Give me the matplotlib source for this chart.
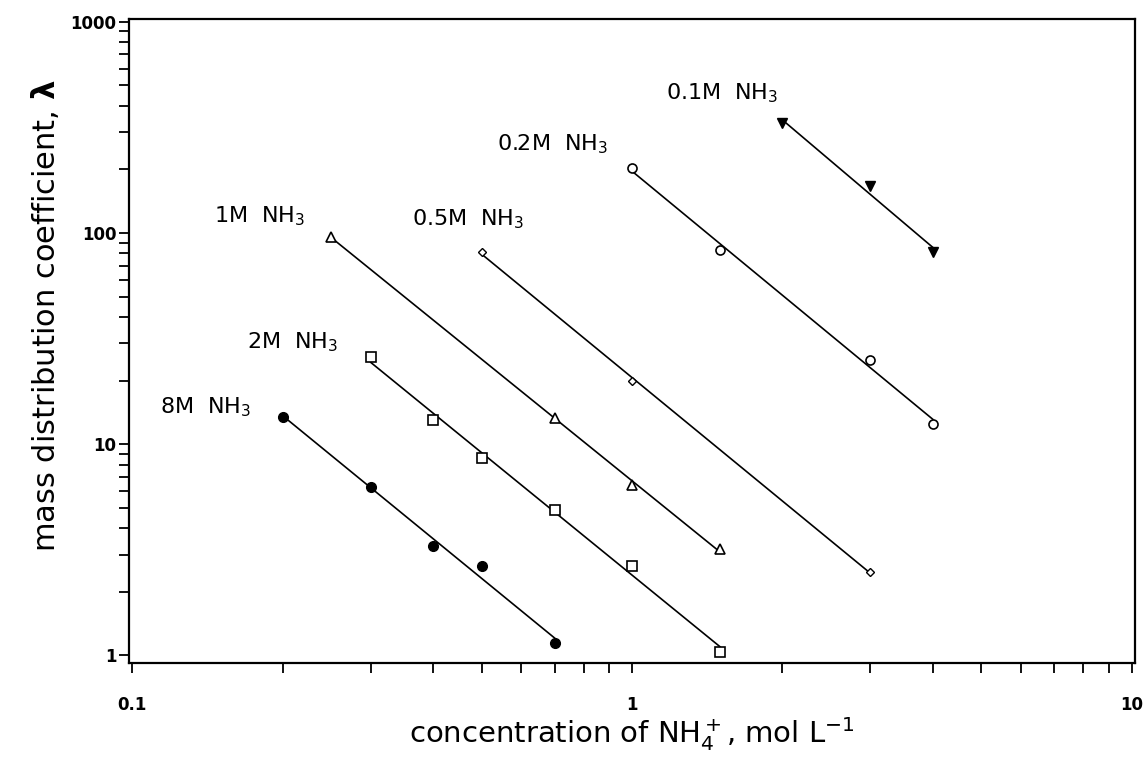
import numpy as np
import matplotlib
matplotlib.use("Agg")
import matplotlib.pyplot as plt

plt.rcParams['font.family'] = ['DejaVu Sans']
plt.rcParams['mathtext.fontset'] = 'dejavusans'

# NH4+ concentration (mol/L) and mass distribution coefficient for each NH3 level
conc_8M = [0.2, 0.3, 0.4, 0.5, 0.7]
lam_8M = [13.5, 6.3, 3.3, 2.65, 1.14]

conc_2M = [0.3, 0.4, 0.5, 0.7, 1.0, 1.5]
lam_2M = [26.0, 13.0, 8.6, 4.9, 2.65, 1.04]

conc_1M = [0.25, 0.7, 1.0, 1.5]
lam_1M = [96.0, 13.3, 6.4, 3.2]

conc_05M = [0.5, 1.0, 3.0]
lam_05M = [81.0, 20.0, 2.48]

conc_02M = [1.0, 1.5, 3.0, 4.0]
lam_02M = [202.0, 83.0, 25.0, 12.5]

conc_01M = [2.0, 3.0, 4.0]
lam_01M = [330.0, 166.0, 81.0]

series_labels = ["8M", "2M", "1M", "0.5M", "0.2M", "0.1M"]
label_pos = [(0.1135, 14.9), (0.170, 30.4), (0.146, 120.0), (0.362, 116.0), (0.536, 262.0), (1.17, 456.0)]

series = [
    (conc_8M, lam_8M, dict(marker='o', ms=7, mfc='black', mec='black')),
    (conc_2M, lam_2M, dict(marker='s', ms=6.5, mfc='white', mec='black', mew=1.2)),
    (conc_1M, lam_1M, dict(marker='^', ms=6.5, mfc='white', mec='black', mew=1.2)),
    (conc_05M, lam_05M, dict(marker='D', ms=4.5, mfc='white', mec='black', mew=1.0)),
    (conc_02M, lam_02M, dict(marker='o', ms=6.5, mfc='white', mec='black', mew=1.2)),
    (conc_01M, lam_01M, dict(marker='v', ms=7, mfc='black', mec='black')),
]

fig = plt.figure(figsize=(11.48, 7.57), dpi=100)
ax = fig.add_axes([0.1124, 0.124, 0.8763, 0.851])
ax.set_xscale('log')
ax.set_yscale('log')

for (x, y, mk), name, (tx, ty) in zip(series, series_labels, label_pos):
    x = np.asarray(x)
    y = np.asarray(y)
    # least-squares line in log-log space over the measured range
    k, b = np.polyfit(np.log10(x), np.log10(y), 1)
    xf = np.array([x.min(), x.max()])
    ax.plot(xf, 10 ** (k * np.log10(xf) + b), color='black', lw=1.2, zorder=2)
    ax.plot(x, y, ls='none', zorder=3, **mk)
    ax.text(tx, ty, name + r'  NH$_3$', fontsize=16, ha='left', va='center')

ax.set_xlim(0.0985, 10.15)
ax.set_ylim(0.92, 1030)

ax.set_xticks([0.1, 1, 10])
ax.set_xticklabels(['0.1', '1', '10'])
ax.set_yticks([1, 10, 100, 1000])
ax.set_yticklabels(['1', '10', '100', '1000'])

ax.tick_params(which='both', direction='out', width=1.3, length=7)
ax.tick_params(axis='x', which='major', pad=17, labelsize=12)
ax.tick_params(axis='y', which='major', pad=2, labelsize=12)
for lab in ax.get_xticklabels() + ax.get_yticklabels():
    lab.set_fontweight('bold')

for sp in ax.spines.values():
    sp.set_linewidth(1.6)

ax.set_xlabel(r'concentration of NH$_4^+$, mol L$^{-1}$', fontsize=21, va='center')
ax.xaxis.set_label_coords(0.5, -0.11)
ax.set_ylabel(r'mass distribution coefficient, $\mathbf{\lambda}$', fontsize=22, va='center')
ax.yaxis.set_label_coords(-0.084, 0.54)

fig.savefig('out.png', dpi=100)
